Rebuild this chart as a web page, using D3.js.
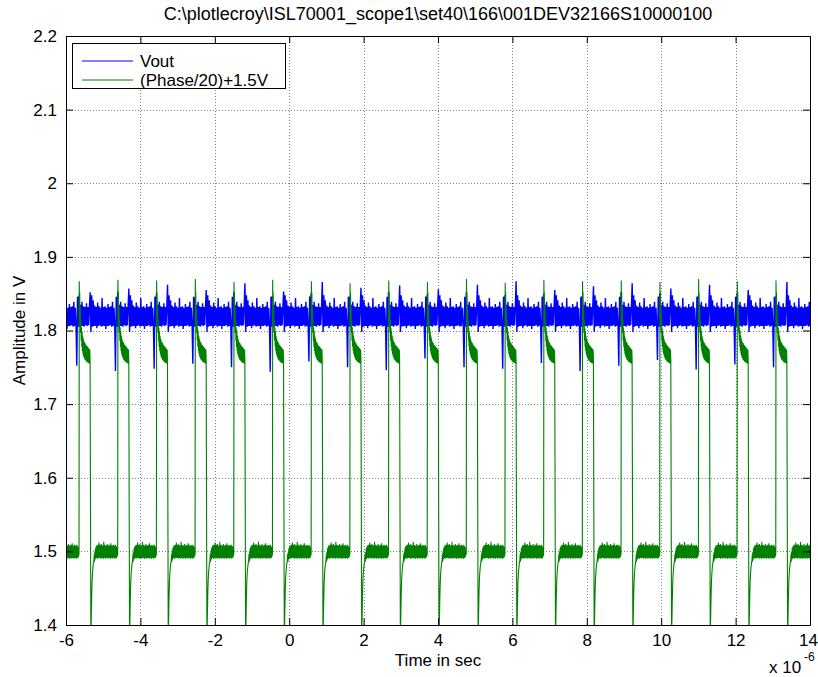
<!DOCTYPE html>
<html><head><meta charset="utf-8">
<script src="https://cdn.jsdelivr.net/npm/d3@7"></script>
<style>
body{margin:0;background:#fff}
svg{display:block}
text{font-family:"Liberation Sans",Arial,Helvetica,sans-serif;fill:#000}
</style>
</head><body>
<svg id="chart" width="818" height="677"></svg>
<script>
// ---------------- data ----------------
const titleText = "C:\\plotlecroy\\ISL70001_scope1\\set40\\166\\001DEV32166S10000100";
const xTicks = [-6,-4,-2,0,2,4,6,8,10,12,14];
const xTickLabels = ["-6","-4","-2","0","2","4","6","8","10","12","14"];
const yTicks = [1.4,1.5,1.6,1.7,1.8,1.9,2.0,2.1,2.2];
const yTickLabels = ["1.4","1.5","1.6","1.7","1.8","1.9","2","2.1","2.2"];
const seriesNames = ["Vout","(Phase/20)+1.5V"];
const seriesColors = ["#0000ff","#008000"];

// switching-edge (phase rise) times in microseconds
const riseTimes = [-6.69,-5.65,-4.61,-3.57,-2.53,-1.49,-0.45,0.59,1.63,2.67,3.71,4.76,5.80,6.84,7.88,8.92,9.96,11.00,12.04,13.08,14.12];
// per-cycle spike values (V)
const phasePeak     = [1.866,1.867,1.869,1.868,1.870,1.866,1.869,1.867,1.864,1.868,1.866,1.870,1.865,1.869,1.867,1.868,1.866,1.870,1.867,1.868,1.866];
const voutDownSpike = [1.760,1.752,1.745,1.748,1.755,1.750,1.744,1.758,1.750,1.746,1.762,1.750,1.748,1.756,1.745,1.752,1.760,1.747,1.754,1.750,1.760];
const voutRiseSpike = [1.850,1.848,1.853,1.850,1.845,1.852,1.847,1.851,1.846,1.853,1.849,1.852,1.848,1.850,1.847,1.852,1.850,1.848,1.851,1.846,1.850];
const voutFallSpike = [1.858,1.852,1.857,1.862,1.855,1.864,1.853,1.866,1.858,1.861,1.856,1.862,1.867,1.855,1.860,1.864,1.857,1.862,1.855,1.866,1.860];

// one cycle of Vout, sampled every 0.02 us starting 0.10 us before the rise
const voutStart = -0.10, voutStep = 0.02;
const voutCycle = [1.831,1.807,1.752,1.846,1.805,1.853,1.805,1.835,1.806,1.839,
                   1.806,1.833,1.805,1.832,1.807,1.837,1.806,1.832,1.807,1.833,
                   1.862,1.798,1.848,1.805,1.841,1.806,1.834,1.806,1.832,1.803,
                   1.838,1.806,1.833,1.807,1.831,1.805,1.844,1.806,1.832,1.806,
                   1.833,1.802,1.831,1.806,1.836,1.806,1.832,1.807,1.833,1.805,
                   1.839,1.806];
// one cycle of (Phase/20)+1.5V : [offset from rise (us), value (V)]
const phaseCycle = [
[0.000,1.497],[0.006,1.867],[0.012,1.836],[0.018,1.852],[0.026,1.815],[0.034,1.833],[0.042,1.797],[0.050,1.815],
[0.058,1.786],[0.066,1.804],[0.074,1.778],[0.082,1.799],[0.090,1.772],[0.098,1.793],[0.106,1.768],[0.114,1.789],
[0.122,1.765],[0.130,1.786],[0.138,1.763],[0.146,1.784],[0.154,1.761],[0.162,1.783],[0.170,1.760],[0.178,1.781],
[0.186,1.759],[0.194,1.780],[0.202,1.758],[0.210,1.779],[0.218,1.757],[0.226,1.778],[0.234,1.757],[0.242,1.777],
[0.250,1.756],[0.258,1.776],[0.266,1.756],[0.274,1.775],[0.282,1.755],[0.290,1.774],[0.298,1.760],
[0.306,1.600],[0.318,1.390],[0.328,1.405],[0.336,1.428],[0.344,1.447],[0.352,1.460],[0.362,1.470],[0.374,1.478],
[0.388,1.484],[0.400,1.488],
[0.408,1.496],[0.416,1.486],[0.424,1.499],[0.432,1.489],[0.440,1.504],[0.448,1.490],[0.456,1.506],[0.464,1.491],
[0.472,1.508],[0.480,1.492],[0.488,1.506],[0.496,1.490],[0.504,1.509],[0.512,1.492],[0.520,1.507],[0.528,1.491],
[0.536,1.512],[0.544,1.493],[0.552,1.507],[0.560,1.491],[0.568,1.509],[0.576,1.492],[0.584,1.506],[0.592,1.490],
[0.600,1.510],[0.608,1.492],[0.616,1.507],[0.624,1.491],[0.632,1.508],[0.640,1.493],[0.648,1.506],[0.656,1.490],
[0.664,1.513],[0.672,1.492],[0.680,1.507],[0.688,1.491],[0.696,1.509],[0.704,1.492],[0.712,1.506],[0.720,1.490],
[0.728,1.508],[0.736,1.492],[0.744,1.507],[0.752,1.491],[0.760,1.510],[0.768,1.492],[0.776,1.506],[0.784,1.490],
[0.792,1.508],[0.800,1.493],[0.808,1.507],[0.816,1.491],[0.824,1.509],[0.832,1.492],[0.840,1.506],[0.848,1.490],
[0.856,1.511],[0.864,1.492],[0.872,1.507],[0.880,1.491],[0.888,1.508],[0.896,1.492],[0.904,1.506],[0.912,1.490],
[0.920,1.509],[0.928,1.493],[0.936,1.507],[0.944,1.491],[0.952,1.508],[0.960,1.492],[0.968,1.506],[0.976,1.490],
[0.984,1.509],[0.992,1.492],[1.000,1.507],[1.008,1.491],[1.016,1.506],[1.024,1.493]
];

// ---------------- build series ----------------
const vout = [];
riseTimes.forEach((r,k)=>{
  voutCycle.forEach((v,i)=>{
    let val = v;
    if(i===2) val = voutDownSpike[k];
    if(i===5) val = voutRiseSpike[k];
    if(i===20) val = voutFallSpike[k];
    vout.push([r + voutStart + i*voutStep, val]);
  });
});
const phase = [];
riseTimes.forEach((r,k)=>{
  phaseCycle.forEach(([dt,v],i)=>{
    phase.push([r+dt, i===1 ? phasePeak[k] : v]);
  });
});

// ---------------- layout ----------------
const L=66, R=810, T=36, B=625;
const svg = d3.select("#chart");
const x = d3.scaleLinear().domain([-6,14]).range([L,R]);
const y = d3.scaleLinear().domain([1.4,2.2]).range([B,T]);

svg.append("rect").attr("x",0).attr("y",0).attr("width",818).attr("height",677).attr("fill","#fff");

// grid
const grid = svg.append("g").attr("stroke","#808080").attr("stroke-width",1).attr("stroke-dasharray","1,2");
grid.selectAll(".gx").data(xTicks.slice(1,-1)).join("line")
  .attr("x1",d=>Math.round(x(d))+0.5).attr("x2",d=>Math.round(x(d))+0.5).attr("y1",T).attr("y2",B);
grid.selectAll(".gy").data(yTicks.slice(1,-1)).join("line")
  .attr("y1",d=>Math.round(y(d))+0.5).attr("y2",d=>Math.round(y(d))+0.5).attr("x1",L).attr("x2",R);

// data
svg.append("clipPath").attr("id","clip").append("rect").attr("x",L).attr("y",T).attr("width",R-L).attr("height",B-T);
const line = d3.line().x(d=>x(d[0])).y(d=>y(d[1]));
const plot = svg.append("g").attr("clip-path","url(#clip)");
plot.append("path").attr("d",line(vout)).attr("fill","none").attr("stroke",seriesColors[0]).attr("stroke-width",1.4);
plot.append("path").attr("d",line(phase)).attr("fill","none").attr("stroke",seriesColors[1]).attr("stroke-width",1.1);

// axes
const fs = 17;
const ax = svg.append("g").attr("transform",`translate(0,${B})`)
  .call(d3.axisBottom(x).tickValues(xTicks).tickFormat((d,i)=>xTickLabels[i]).tickSize(-7).tickSizeOuter(0).tickPadding(9));
const ay = svg.append("g").attr("transform",`translate(${L},0)`)
  .call(d3.axisLeft(y).tickValues(yTicks).tickFormat((d,i)=>yTickLabels[i]).tickSize(-7).tickSizeOuter(0).tickPadding(9));
svg.append("g").attr("transform",`translate(0,${T})`)
  .call(d3.axisTop(x).tickValues(xTicks).tickFormat("").tickSize(-7).tickSizeOuter(0));
svg.append("g").attr("transform",`translate(${R},0)`)
  .call(d3.axisRight(y).tickValues(yTicks).tickFormat("").tickSize(-7).tickSizeOuter(0));
svg.selectAll(".domain").attr("stroke","#000");
svg.selectAll(".tick line").attr("stroke","#000");
svg.selectAll(".tick text").attr("font-size",fs).attr("font-family","'Liberation Sans',Arial,sans-serif");
ax.selectAll(".tick text").filter((d,i)=>i===xTicks.length-1).attr("dx",-2);

// title & labels
svg.append("text").attr("x",(L+R)/2).attr("y",20).attr("text-anchor","middle").attr("font-size",18).text(titleText);
svg.append("text").attr("x",(L+R)/2).attr("y",666).attr("text-anchor","middle").attr("font-size",fs).text("Time in sec");
svg.append("text").attr("transform",`translate(25,${(T+B)/2}) rotate(-90)`).attr("text-anchor","middle").attr("font-size",fs).text("Amplitude in V");
svg.append("text").attr("x",769).attr("y",673).attr("font-size",fs).text("x 10");
svg.append("text").attr("x",804).attr("y",661).attr("font-size",12).text("-6");

// legend
const lg = svg.append("g");
lg.append("rect").attr("x",72.5).attr("y",43.5).attr("width",213).attr("height",45).attr("fill","#fff").attr("stroke","#000");
seriesNames.forEach((n,i)=>{
  const yy = 61 + i*19;
  lg.append("line").attr("x1",82).attr("x2",133).attr("y1",yy).attr("y2",yy).attr("stroke",seriesColors[i]).attr("stroke-width",1);
  lg.append("text").attr("x",140).attr("y",yy+6).attr("font-size",17).text(n);
});
</script>
</body></html>
